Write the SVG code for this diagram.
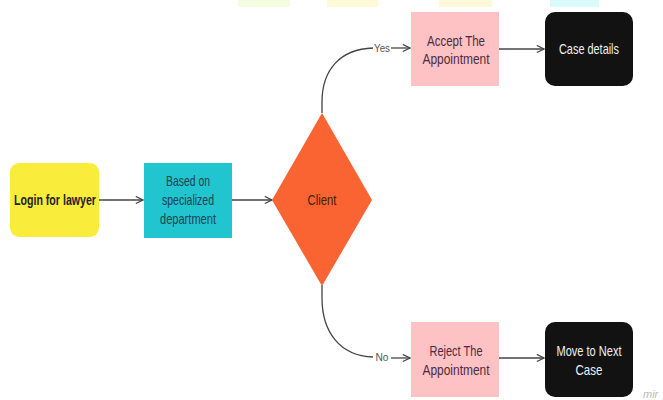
<svg xmlns="http://www.w3.org/2000/svg" width="663" height="400" viewBox="0 0 663 400">
<defs>
<marker id="arr" viewBox="0 0 10 10" refX="9" refY="5" markerWidth="9" markerHeight="9" markerUnits="userSpaceOnUse" orient="auto">
<path d="M1,1 L9,5 L1,9" fill="none" stroke="#444" stroke-width="1.3"/>
</marker>
<style>
.t{font-family:"Liberation Sans",Arial,sans-serif;font-size:14.5px;text-anchor:middle}
.l{font-family:"Liberation Sans",Arial,sans-serif;font-size:10.5px;text-anchor:middle;fill:#555}
.c{fill:none;stroke:#444;stroke-width:1.3}
</style>
</defs>
<rect width="663" height="400" fill="#fff"/>
<g id="remnants">
<rect x="238" y="0" width="52" height="7" fill="#f6fce0"/>
<rect x="327" y="0" width="51" height="7" fill="#fff9d8"/>
<rect x="439" y="0" width="53" height="7" fill="#fff8d8"/>
<rect x="550" y="0" width="49" height="7" fill="#d9fbff"/>
</g>
<g id="connectors">
<path class="c" d="M99,200 L143,200" marker-end="url(#arr)"/>
<path class="c" d="M232,200 L272,200" marker-end="url(#arr)"/>
<path class="c" d="M322,113 L322,102 C322,70 340,49 373,48"/>
<text class="l" x="382" y="51.5" textLength="16" lengthAdjust="spacingAndGlyphs">Yes</text>
<path class="c" d="M391,48 L410,48" marker-end="url(#arr)"/>
<path class="c" d="M322,285 L322,298 C322,332 340,356 373,357"/>
<text class="l" x="382" y="360.5" textLength="13" lengthAdjust="spacingAndGlyphs">No</text>
<path class="c" d="M391,358 L410,358" marker-end="url(#arr)"/>
<path class="c" d="M499,49 L544,49" marker-end="url(#arr)"/>
<path class="c" d="M499,358 L544,358" marker-end="url(#arr)"/>
</g>
<g id="login">
<rect x="10" y="163" width="89" height="74" rx="9" fill="#f9ec3a"/>
<text class="t" x="55" y="205" font-weight="bold" fill="#222" textLength="82" lengthAdjust="spacingAndGlyphs">Login for lawyer</text>
</g>
<g id="based">
<rect x="144" y="163" width="88" height="75" fill="#21c5cf"/>
<text class="t" x="188" y="186" fill="#1e4250" textLength="44" lengthAdjust="spacingAndGlyphs">Based on</text>
<text class="t" x="188" y="205" fill="#1e4250" textLength="52" lengthAdjust="spacingAndGlyphs">specialized</text>
<text class="t" x="188" y="224" fill="#1e4250" textLength="56" lengthAdjust="spacingAndGlyphs">department</text>
</g>
<g id="client">
<polygon points="322,113 372,200 322,286 272,200" fill="#fa6432"/>
<text class="t" x="322" y="205" fill="#4a1a10" textLength="29" lengthAdjust="spacingAndGlyphs">Client</text>
</g>
<g id="accept">
<rect x="411" y="12" width="88" height="74" fill="#ffc2c4"/>
<text class="t" x="456" y="46" fill="#4a2a40" textLength="58" lengthAdjust="spacingAndGlyphs">Accept The</text>
<text class="t" x="456" y="64" fill="#4a2a40" textLength="67" lengthAdjust="spacingAndGlyphs">Appointment</text>
</g>
<g id="case">
<rect x="545" y="12" width="88" height="74" rx="10" fill="#121212"/>
<text class="t" x="589" y="54" fill="#f0f0f0" textLength="60" lengthAdjust="spacingAndGlyphs">Case details</text>
</g>
<g id="reject">
<rect x="411" y="322" width="88" height="75" fill="#ffc2c4"/>
<text class="t" x="456" y="356" fill="#4a2a40" textLength="53" lengthAdjust="spacingAndGlyphs">Reject The</text>
<text class="t" x="456" y="375" fill="#4a2a40" textLength="67" lengthAdjust="spacingAndGlyphs">Appointment</text>
</g>
<g id="next">
<rect x="545" y="322" width="88" height="75" rx="10" fill="#121212"/>
<text class="t" x="589" y="356" fill="#f0f0f0" textLength="65" lengthAdjust="spacingAndGlyphs">Move to Next</text>
<text class="t" x="589" y="375" fill="#f0f0f0" textLength="27" lengthAdjust="spacingAndGlyphs">Case</text>
</g>
<text x="643" y="398" font-family="'Liberation Sans',Arial,sans-serif" font-size="11" font-style="italic" fill="#bbb">mir</text>
</svg>
